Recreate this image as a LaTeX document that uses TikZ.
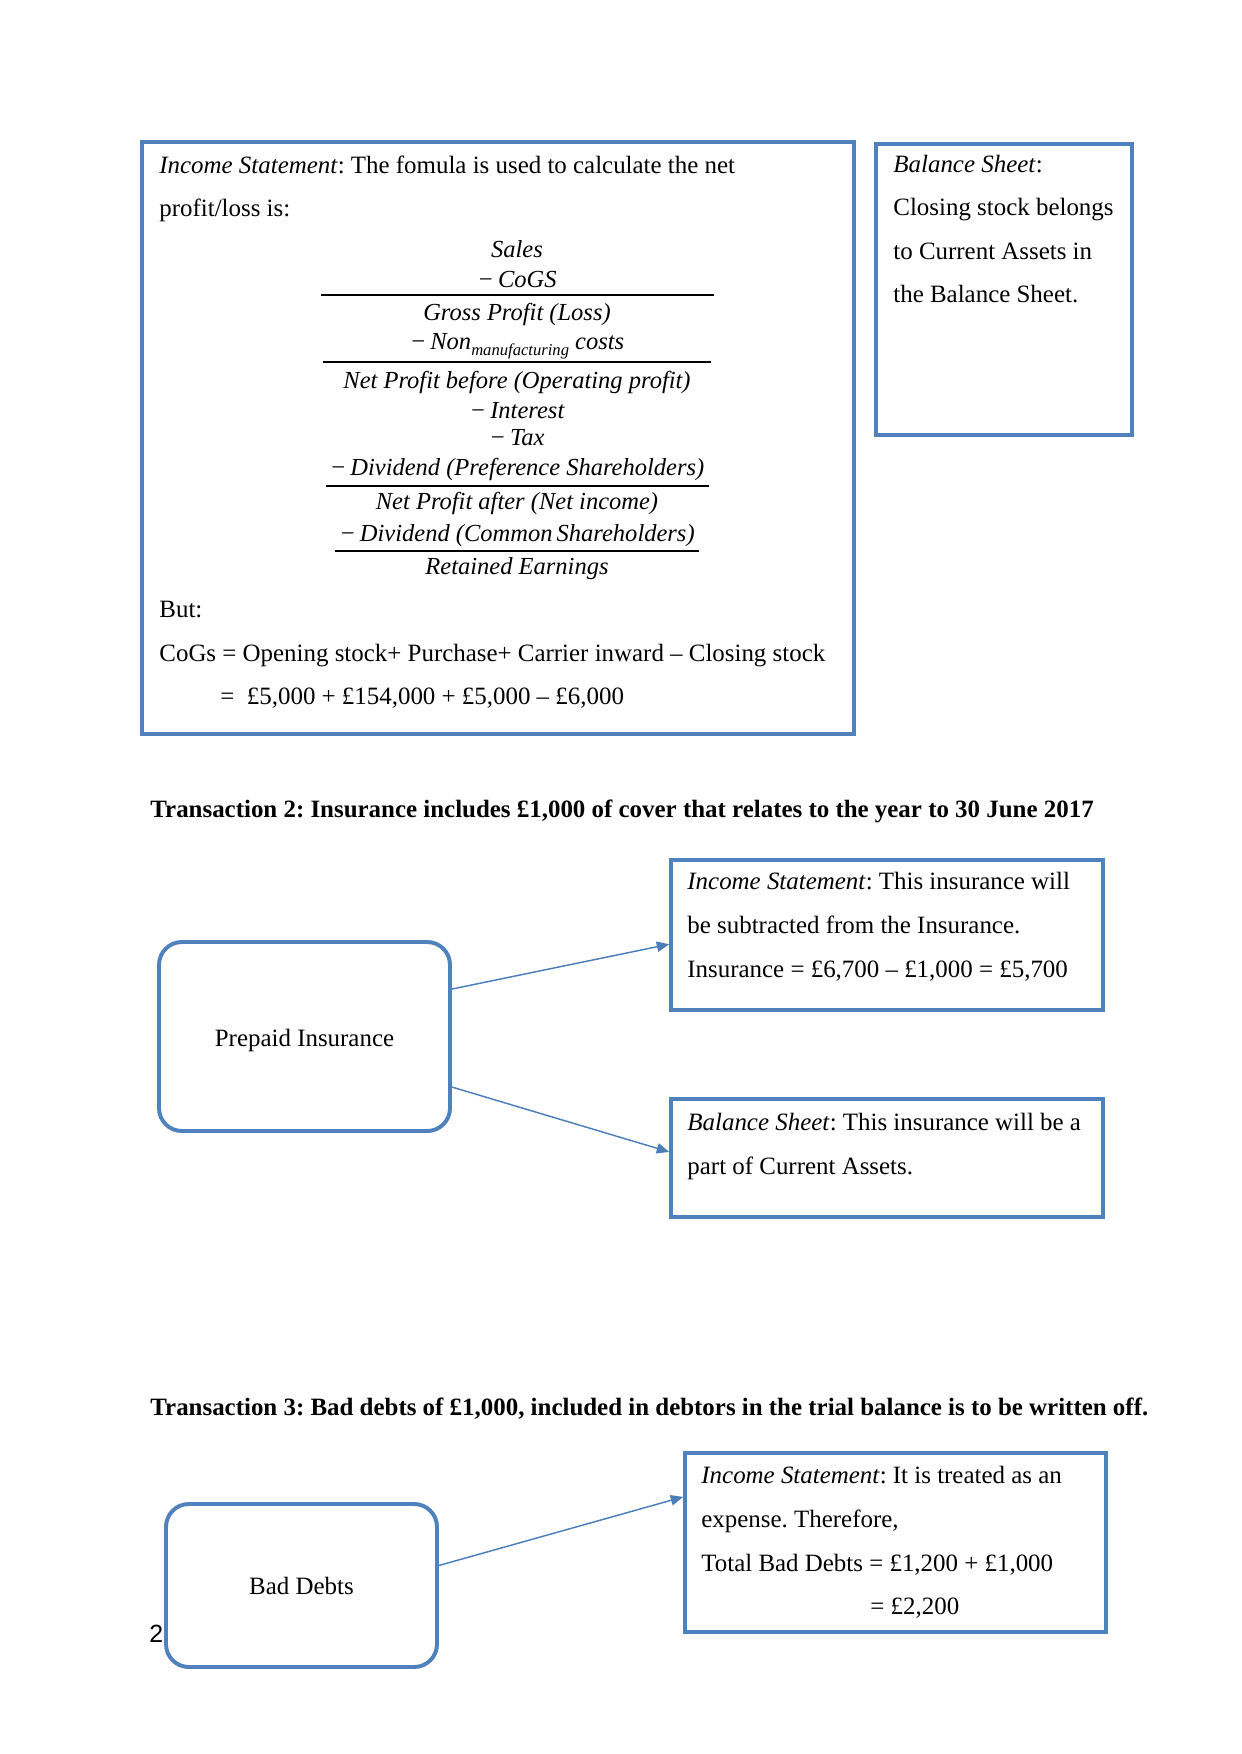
\documentclass[tikz,border=0pt]{standalone}
\usepackage{fontspec}
\setmainfont{Liberation Serif}
\setsansfont{Liberation Sans}
\usetikzlibrary{arrows.meta, positioning, fit, calc}
\frenchspacing

\definecolor{boxblue}{HTML}{4F81BD}
\definecolor{linkblue}{HTML}{4A7EBB}

\tikzset{
    box/.style={draw=boxblue, line width=1.7pt, inner sep=0pt},
    roundbox/.style={draw=boxblue, line width=1.9pt, inner sep=0pt, rounded corners=11pt},
    txt/.style={anchor=base west, align=left, inner sep=0pt, font=\fontsize{12}{21}\selectfont},
    eqn/.style={anchor=base, inner sep=0pt, font=\fontsize{11.8}{14}\selectfont\itshape},
    head/.style={anchor=base west, inner sep=0pt, font=\fontsize{12}{14}\selectfont\bfseries},
    link/.style={draw=linkblue, line width=0.7pt, -{Triangle[length=6pt, width=5pt]}},
}

\begin{document}
\begin{tikzpicture}[x=0.16922mm, y=-0.16922mm]
    \useasboundingbox (0,0) rectangle (1241,1754);

    % Transaction 1: formula box and balance sheet box
    % (txt nodes are placed at the baseline of their last line)
    \node[box, fit={(142,142) (854,734)}] (isone) {};
    \node[box, fit={(876,144) (1132,435)}] (bsone) {};

    \node[txt] (istxt) at (159,217) {\textit{Income Statement}: The fomula is used to calculate the net\\
        profit/loss is:};
    \node[eqn] (sales) at (517,258) {Sales};
    \node[eqn] (cogs) at (517,288) {−\,CoGS};
    \node[eqn] (gross) at (517,321) {Gross Profit (Loss)};
    \node[eqn] (nonman) at (517,350) {−\,Non\raisebox{-0.45ex}{\fontsize{8}{8}\selectfont manufacturing} costs};
    \node[eqn] (npbefore) at (517,389) {Net Profit before (Operating profit)};
    \node[eqn] (interest) at (517,419) {−\,Interest};
    \node[eqn] (tax) at (517,446) {−\,Tax};
    \node[eqn] (divpref) at (517,475) {−\,Dividend (Preference Shareholders)};
    \node[eqn] (npafter) at (517,509) {Net Profit after (Net income)};
    \node[eqn] (divcom) at (517,541) {−\,Dividend (Common\,Shareholders)};
    \node[eqn] (retained) at (517,574) {Retained Earnings};
    \draw[line width=0.6pt] (321,295) -- (714,295);
    \draw[line width=0.6pt] (323,362) -- (711,362);
    \draw[line width=1pt] (326,486) -- (709,486);
    \draw[line width=0.6pt] (335,551) -- (699,551);

    \node[txt] (but) at (159,661) {But:\\
        CoGs = Opening stock+ Purchase+ Carrier inward – Closing stock};
    \node[txt] (cogsval) at (220,704) {=~~£5,000 + £154,000 + £5,000 – £6,000};

    \node[txt] (bstxt) at (893,303) {\textit{Balance Sheet}:\\
        Closing stock belongs\\
        to Current Assets in\\
        the Balance Sheet.};

    % Transaction 2
    \node[head] (headtwo) at (150,817) {Transaction 2: Insurance includes £1,000 of cover that relates to the year to 30 June 2017};

    \node[roundbox, fit={(159,942) (450,1131)}] (prepaid) {};
    \node at ([yshift=-1.7pt]prepaid.center) {\fontsize{12}{14}\selectfont Prepaid Insurance};

    \node[box, fit={(671,860) (1103,1010)}] (istwo) {};
    \node[txt] (istwotxt) at (687,977) {\textit{Income Statement}: This insurance will\\
        be subtracted from the Insurance.\\
        Insurance = £6,700 – £1,000 = £5,700};

    \node[box, fit={(671,1099) (1103,1217)}] (bstwo) {};
    \node[txt] (bstwotxt) at (687,1174) {\textit{Balance Sheet}: This insurance will be a\\
        part of Current Assets.};

    \draw[link] ($(prepaid.north east)!0.254!(prepaid.south east)$) -- ($(istwo.north west)!0.56!(istwo.south west)$);
    \draw[link] ($(prepaid.north east)!0.762!(prepaid.south east)$) -- ($(bstwo.north west)!0.45!(bstwo.south west)$);

    % Transaction 3
    \node[head] (headthree) at (150,1415) {Transaction 3: Bad debts of £1,000, included in debtors in the trial balance is to be written off.};

    \node[roundbox, fit={(166,1504) (437,1667)}] (baddebts) {};
    \node at (baddebts.center) {\fontsize{12}{14}\selectfont Bad Debts};

    \node[box, fit={(685,1453) (1106,1632)}] (isthree) {};
    \node[txt] (isthreetxt) at (701,1571) {\textit{Income Statement}: It is treated as an\\
        expense. Therefore,\\
        Total Bad Debts = £1,200 + £1,000};
    \node[txt] (isthreetot) at (870,1614) {= £2,200};

    \draw[link] ($(baddebts.north east)!0.38!(baddebts.south east)$) -- ($(isthree.north west)!0.25!(isthree.south west)$);

    \node[anchor=base west, inner sep=0pt, font=\sffamily\fontsize{12}{14}\selectfont] (pagenum) at (149,1642) {2};
\end{tikzpicture}
\end{document}
